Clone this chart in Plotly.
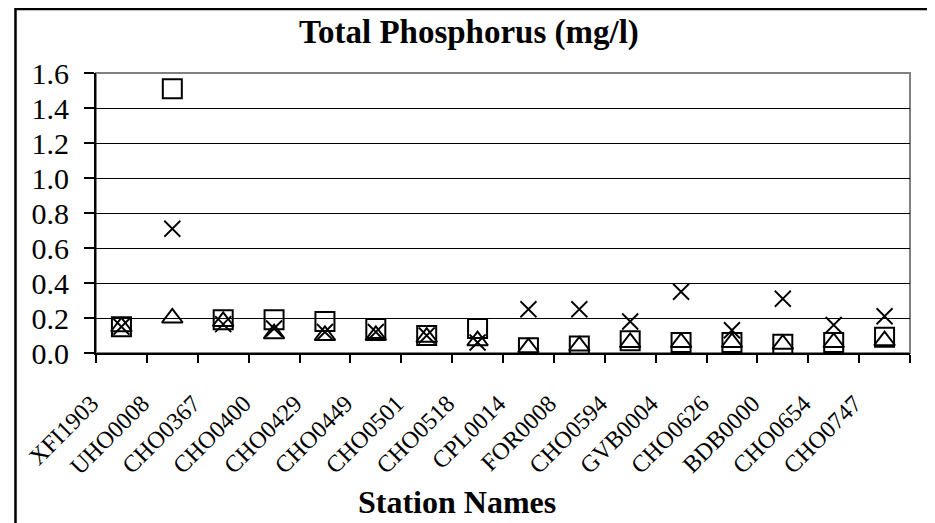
import plotly.graph_objects as go

stations = ["XFI1903", "UHO0008", "CHO0367", "CHO0400", "CHO0429", "CHO0449",
            "CHO0501", "CHO0518", "CPL0014", "FOR0008", "CHO0594", "GVB0004",
            "CHO0626", "BDB0000", "CHO0654", "CHO0747"]

# three sampling series, mg/l
square_vals = [0.15, 1.51, 0.19, 0.19, 0.18, 0.14, 0.10, 0.14,
               0.03, 0.04, 0.07, 0.06, 0.06, 0.05, 0.06, 0.09]
cross_vals = [0.15, 0.71, 0.165, 0.14, 0.12, 0.12, 0.10, 0.06,
              0.25, 0.25, 0.18, 0.35, 0.13, 0.31, 0.16, 0.21]
triangle_vals = [0.15, 0.20, 0.18, 0.11, 0.10, 0.10, 0.09, 0.07,
                 0.03, 0.04, 0.06, 0.06, 0.06, 0.05, 0.06, 0.07]

y_ticks = [0.0, 0.2, 0.4, 0.6, 0.8, 1.0, 1.2, 1.4, 1.6]

serif = "Liberation Serif, Times New Roman, serif"

fig = go.Figure()

fig.add_trace(go.Scatter(
    x=stations, y=square_vals, mode="markers", name="Series 1",
    marker=dict(symbol="square-open", size=19, color="black",
                line=dict(width=2, color="black"))
))
fig.add_trace(go.Scatter(
    x=stations, y=cross_vals, mode="markers", name="Series 2",
    marker=dict(symbol="x-thin-open", size=16, color="black",
                line=dict(width=1.8, color="black"))
))
fig.add_trace(go.Scatter(
    x=stations, y=triangle_vals, mode="markers", name="Series 3",
    marker=dict(symbol="triangle-up-open", size=18, color="black",
                line=dict(width=2, color="black"))
))

# plot area border (grey top/right) and outer chart frame
fig.add_shape(type="rect", xref="paper", yref="paper", x0=0, x1=1, y0=0, y1=1,
              line=dict(color="#808080", width=2), layer="below")
fig.add_shape(type="rect", xref="paper", yref="paper",
              x0=-0.0989, x1=1.0295, y0=-0.66, y1=1.2286,
              line=dict(color="black", width=2.5))

fig.add_annotation(text="<b>Total Phosphorus (mg/l)</b>", xref="paper", yref="paper",
                   x=0.458, y=1.146, xanchor="center", yanchor="middle",
                   showarrow=False,
                   font=dict(family=serif, size=33, color="black"))
fig.add_annotation(text="<b>Station Names</b>", xref="paper", yref="paper",
                   x=0.444, y=-0.532, xanchor="center", yanchor="middle",
                   showarrow=False,
                   font=dict(family=serif, size=32, color="black"))

# the page body adds 8px, so the figure is 8px smaller and margins trimmed
fig.update_layout(
    width=927, height=515,
    margin=dict(l=88, r=25, t=65, b=170),
    paper_bgcolor="white", plot_bgcolor="white",
    showlegend=False,
    font=dict(family=serif, color="black"),
)

fig.update_xaxes(
    type="category", range=[-0.5, len(stations) - 0.5],
    showline=True, linecolor="black", linewidth=2,
    ticks="outside", ticklen=8, tickwidth=2, tickcolor="black",
    tickson="boundaries", showgrid=False,
    tickangle=-45, tickfont=dict(family=serif, size=24, color="black"),
    ticklabelshift=-30, ticklabelstandoff=25,
)
fig.update_yaxes(
    range=[0, 1.6], tickvals=y_ticks, ticktext=[f"{v:.1f}" for v in y_ticks],
    showline=True, linecolor="black", linewidth=2,
    ticks="outside", ticklen=10, tickwidth=2, tickcolor="black",
    showgrid=True, gridcolor="black", gridwidth=1.3, zeroline=False,
    tickfont=dict(family=serif, size=30, color="black"),
    ticklabelstandoff=9,
)

fig.write_html("out.html")
